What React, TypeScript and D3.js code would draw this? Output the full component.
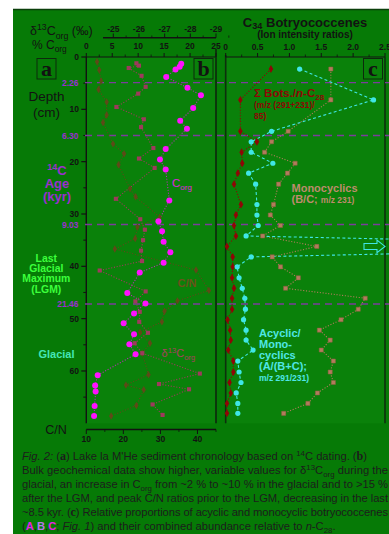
import * as d3 from "d3";

// ---- data ----
const depthTicks = [0, 10, 20, 30, 40, 50, 60];
const depthMinor = [5, 15, 25, 35, 45, 55, 65];
const ageDepths = [4.9, 15.0, 32.0, 47.2];
const ageLabels = ["2.26", "6.30", "9.03", "21.46"];

const corgTicks = [0, 5, 10, 15, 20, 25];
const d13cTicks = [-25, -26, -27, -28, -29];
const cnTicks = [10, 20, 30, 40];
const ratioTicks = [0, 0.5, 1.0, 1.5, 2.0, 2.5];
const ratioLabels = ["0", "0.5", "1.0", "1.5", "2.0", "2.5"];

const corgDepth = [1.3, 1.85, 2.4, 3.8, 5.9, 7.3, 9.75, 12.2, 13.7, 17.6, 19.6, 21.5, 27.4, 31.4, 33.3, 35.3, 37.3, 39.3, 41.2, 45.1, 47.1, 49.0, 50.9, 53.0, 54.9, 56.8, 60.8, 62.8, 63.9, 66.7, 68.6];
const corgValue = [18.3, 18.0, 17.2, 15.4, 19.5, 22.1, 20.6, 18.1, 19.4, 15.3, 14.2, 15.3, 16.0, 13.9, 14.6, 14.9, 16.2, 14.9, 10.3, 7.9, 11.4, 9.2, 7.2, 9.2, 8.3, 9.5, 2.2, 1.7, 1.8, 1.6, 1.5];

const d13cDepth = [1.2, 1.65, 2.1, 3.6, 5.7, 7.0, 9.55, 11.9, 13.4, 17.4, 19.4, 21.2, 27.1, 31.0, 33.0, 35.0, 37.0, 39.0, 40.8, 44.8, 46.7, 48.7, 50.6, 52.7, 54.7, 56.6, 60.5, 62.5, 63.5, 66.4, 68.4];
const d13cValue = [-25.9, -26.0, -25.6, -26.1, -26.26, -25.97, -25.12, -26.19, -26.08, -26.56, -26.0, -26.61, -25.1, -26.05, -26.23, -26.16, -26.08, -26.12, -24.47, -26.26, -25.86, -26.03, -26.01, -26.35, -25.83, -26.13, -28.37, -26.78, -27.95, -26.53, -26.92];

const cnDepth = [0.9, 2.5, 4.6, 6.2, 8.6, 11.1, 12.5, 16.6, 18.5, 20.6, 25.2, 26.7, 30.6, 32.5, 34.7, 36.7, 40.7, 44.6, 46.6, 48.6, 50.6, 52.6, 54.7, 56.6, 60.7, 62.7, 63.6, 66.6, 68.6];
const cnValue = [12.9, 13.5, 14.0, 13.3, 15.5, 15.5, 14.5, 17.2, 20.2, 18.7, 21.8, 23.3, 29.8, 23.8, 23.2, 17.7, 39.6, 43.1, 34.6, 31.1, 30.4, 24.5, 27.2, 25.1, 26.8, 20.7, 25.5, 23.5, 16.7];

const botDepth = [2.3, 8.2, 14.2, 16.2, 18.2, 20.3, 22.2, 24.3, 28.2, 30.2, 32.2, 34.2, 36.2, 38.2, 40.1, 42.2, 44.2, 46.1, 48.2, 50.2, 52.2, 54.1, 56.0, 58.1, 60.2, 62.2, 64.2, 66.2, 68.1];
const sumBots = [0.71, 0.23, 0.23, 0.49, 0.25, 0.26, 0.19, 0.13, 0.24, 0.16, 0.13, 0.16, 0.02, 0.11, 0.11, 0.10, 0.13, 0.10, 0.10, 0.03, 0.07, 0.08, 0.04, 0.12, 0.12, 0.06, 0.08, 0.02, 0.02];
const monocyclics = [1.65, 1.65, 0.98, 0.72, 0.61, 1.09, 0.97, 0.83, 0.75, 0.70, 0.86, 0.58, 1.43, 0.73, 0.86, 1.14, 0.94, 2.19, 2.08, 1.81, 1.47, 1.64, 1.50, 1.69, 1.64, 1.69, 1.44, 1.29, 0.91];
const acyclicMono = [1.16, 2.32, 0.72, 0.40, 0.40, 0.74, 0.36, 0.47, 0.49, 0.49, 0.51, 0.32, 8.0, 0.40, 0.18, 0.21, 0.26, 0.30, 0.31, 0.28, 0.32, 0.32, 0.43, 0.19, 0.21, 0.24, 0.165, 0.19, 0.19];

type Seg = { t: string; k?: string };

const captionLines: Seg[][] = [
  [{ t: "Fig. 2:", k: "i" }, { t: " (" }, { t: "a", k: "bs" }, { t: ") Lake la M'He sediment chronology based on " }, { t: "14", k: "sup" }, { t: "C dating. (" }, { t: "b", k: "bs" }, { t: ")" }],
  [{ t: "Bulk geochemical data show higher, variable values for δ" }, { t: "13", k: "sup" }, { t: "C" }, { t: "org", k: "sub" }, { t: " during the" }],
  [{ t: "glacial, an increase in C" }, { t: "org", k: "sub" }, { t: " from ~2 % to ~10 % in the glacial and to >15 %" }],
  [{ t: "after the LGM, and peak C/N ratios prior to the LGM, decreasing in the last" }],
  [{ t: "~8.5 kyr. (" }, { t: "c", k: "bs" }, { t: ") Relative proportions of acyclic and monocyclic botryococcenes" }],
  [{ t: "(" }, { t: "A", k: "A" }, { t: "," }, { t: "B", k: "B" }, { t: "," }, { t: "C", k: "A" }, { t: "; " }, { t: "Fig. 1", k: "i" }, { t: ") and their combined abundance relative to " }, { t: "n", k: "i" }, { t: "-C" }, { t: "28", k: "sub" }, { t: "." }],
];
const captionWidths = [345, 366, 366, 366, 366, 0];

const SANS = "'Liberation Sans', Arial, sans-serif";
const SERIF = "'Liberation Serif', 'DejaVu Serif', serif";

function Segs({ segs, size, sub = 0.3 }: { segs: Seg[]; size: number; sub?: number }) {
  let shift = 0;
  return (
    <>
      {segs.map((s, i) => {
        const want = s.k === "sup" ? -0.38 * size : s.k === "sub" ? sub * size : 0;
        const dy = want - shift;
        shift = want;
        const p: any = {};
        if (dy !== 0) p.dy = dy;
        if (s.k === "sup" || s.k === "sub") p.fontSize = size * 0.7;
        if (s.k === "i") p.fontStyle = "italic";
        if (s.k === "bs") {
          p.fontFamily = SERIF;
          p.fontWeight = "bold";
          p.fontSize = size * 1.08;
        }
        if (s.k === "A") {
          p.fill = "#e81ee8";
          p.fontWeight = "bold";
        }
        if (s.k === "B") {
          p.fill = "#b777e8";
          p.fontWeight = "bold";
        }
        return (
          <tspan key={i} {...p}>
            {s.t}
          </tspan>
        );
      })}
    </>
  );
}

export default function App() {
  const W = 389;
  const H = 534;
  const top = 57;
  const bottom = 423.3;

  const y = d3.scaleLinear().domain([0, 70]).range([top, bottom]);
  const xCorg = d3.scaleLinear().domain([0, 25]).range([86.3, 216]);
  const xD13 = d3.scaleLinear().domain([-25, -29]).range([113.3, 216]);
  const xCN = d3.scaleLinear().domain([10, 45]).range([86.3, 216]);
  const xR = d3.scaleLinear().domain([0, 2.5]).range([225.7, 385]);

  const mkLine = (xs: (v: number) => number, depth: number[]) =>
    d3
      .line<number>()
      .x((v) => xs(v))
      .y((_, i) => y(depth[i]));

  const sq = d3.symbol().type(d3.symbolSquare).size(17)()!;
  const sqTan = d3.symbol().type(d3.symbolSquare).size(17)()!;
  const dia = d3.symbol().type(d3.symbolDiamond).size(16)()!;
  const diaRed = d3.symbol().type(d3.symbolDiamond).size(18)()!;

  const cCorg = "#ff10ff";
  const cD13 = "#9e3a5c";
  const cCN = "#5e4a18";
  const cRed = "#8e0606";
  const cTan = "#b27c5c";
  const cCyan = "#3fe6e6";
  const cPurple = "#9a2fd0";
  const dark = "#121212";

  const dot = "1.1,1.7";

  return (
    <svg
      width={W}
      height={H}
      style={{ position: "absolute", left: 0, top: 0, background: "#fff" }}
      fontFamily={SANS}
    >
      <defs>
        <clipPath id="clipC">
          <rect x={224} y={top - 2} width={W - 224} height={bottom - top + 4} />
        </clipPath>
      </defs>
      {/* background */}
      <rect x={13} y={9} width={W - 13} height={H - 9} fill="#067a06" />
      <line x1={13} x2={W} y1={9.5} y2={9.5} stroke="#0a3f0a" strokeWidth={1.5} />
      {/* panels */}
      <rect x={xCorg(0)} y={top} width={xCorg(25) - xCorg(0)} height={bottom - top} fill="#0a810a" />
      <rect x={xR(0)} y={top} width={xR(2.5) - xR(0)} height={bottom - top} fill="#0a810a" />

      {/* panel b frame */}
      <line x1={xCorg(0)} x2={xCorg(0)} y1={top} y2={bottom} stroke={dark} strokeWidth={1.4} />
      <line x1={xCorg(0)} x2={xCorg(25)} y1={top} y2={top} stroke={dark} strokeWidth={1.2} />
      <line x1={xCorg(25)} x2={xCorg(25)} y1={49} y2={bottom} stroke="#0d2f0d" strokeWidth={1.8} />
      {/* panel c frame */}
      <line x1={xR(0)} x2={xR(0)} y1={top - 2} y2={bottom} stroke="#0d2f0d" strokeWidth={1.6} />
      <line x1={xR(0)} x2={xR(2.5)} y1={top} y2={top} stroke={dark} strokeWidth={1.2} />
      <line x1={xR(2.5)} x2={xR(2.5)} y1={top} y2={bottom} stroke="#0d2f0d" strokeWidth={1.6} />

      {/* depth axis */}
      {depthTicks.map((d) => (
        <g key={"dt" + d}>
          <line x1={xCorg(0) - 5} x2={xCorg(0)} y1={y(d)} y2={y(d)} stroke={dark} strokeWidth={1.2} />
          <text x={79} y={y(d)} dy="0.36em" textAnchor="end" fontSize={8.5} fontWeight="bold" fill={dark}>
            {d}
          </text>
        </g>
      ))}
      {depthMinor.map((d) => (
        <line key={"dm" + d} x1={xCorg(0) - 3} x2={xCorg(0)} y1={y(d)} y2={y(d)} stroke={dark} strokeWidth={1} />
      ))}

      {/* age lines */}
      {ageDepths.map((d, i) => (
        <g key={"age" + i}>
          <line x1={81} x2={W} y1={y(d)} y2={y(d)} stroke="#7b3c9c" strokeWidth={1.4} strokeDasharray="7,5" strokeDashoffset={-4} />
          <text x={78.5} y={y(d)} dy="0.36em" textAnchor="end" fontSize={8.5} fontWeight="bold" fill={cPurple}>
            {ageLabels[i]}
          </text>
        </g>
      ))}

      {/* top axes of panel b */}
      <text x={30} y={35} fontSize={12.5} fill={dark}>
        <Segs segs={[{ t: "δ" }, { t: "13", k: "sup" }, { t: "C" }, { t: "org", k: "sub" }, { t: " (‰)" }]} size={12.5} />
      </text>
      <text x={32} y={48.5} fontSize={12} fill={dark}>
        <Segs segs={[{ t: "% C" }, { t: "org", k: "sub" }]} size={12} />
      </text>
      <line x1={103} x2={xD13(-29)} y1={37.7} y2={37.7} stroke={dark} strokeWidth={1.5} />
      {d13cTicks.map((v) => (
        <g key={"d13" + v}>
          <line x1={xD13(v)} x2={xD13(v)} y1={33.5} y2={37.7} stroke={dark} strokeWidth={1} />
          <line x1={xD13(v - 0.5)} x2={xD13(v - 0.5)} y1={35.5} y2={37.7} stroke={dark} strokeWidth={0.8} />
          <text x={xD13(v)} y={31.5} textAnchor="middle" fontSize={8.5} fontWeight="bold" fill={dark}>
            {v}
          </text>
        </g>
      ))}
      {corgTicks.map((v) => (
        <g key={"co" + v}>
          <line x1={xCorg(v)} x2={xCorg(v)} y1={top - 4} y2={top} stroke={dark} strokeWidth={1} />
          {v < 25 && <line x1={xCorg(v + 2.5)} x2={xCorg(v + 2.5)} y1={top - 2.5} y2={top} stroke={dark} strokeWidth={0.8} />}
          <text x={xCorg(v)} y={48.5} textAnchor="middle" fontSize={8.5} fontWeight="bold" fill={dark}>
            {v}
          </text>
        </g>
      ))}

      {/* bottom C/N axis */}
      <line x1={xCN(10)} x2={xCN(45)} y1={429.5} y2={429.5} stroke={dark} strokeWidth={1.4} />
      {cnTicks.map((v) => (
        <g key={"cn" + v}>
          <line x1={xCN(v)} x2={xCN(v)} y1={429.5} y2={434} stroke={dark} strokeWidth={1} />
          <line x1={xCN(v + 5)} x2={xCN(v + 5)} y1={429.5} y2={432} stroke={dark} strokeWidth={0.8} />
          <text x={xCN(v)} y={441.5} textAnchor="middle" fontSize={8.5} fontWeight="bold" fill={dark}>
            {v}
          </text>
        </g>
      ))}
      <text x={56} y={434} textAnchor="middle" fontSize={12.5} fill={dark}>
        C/N
      </text>

      {/* panel c top axis */}
      {ratioTicks.map((v, i) => (
        <g key={"r" + v}>
          <line x1={xR(v)} x2={xR(v)} y1={top - 4} y2={top} stroke={dark} strokeWidth={1} />
          {v < 2.5 && <line x1={xR(v + 0.25)} x2={xR(v + 0.25)} y1={top - 2.5} y2={top} stroke={dark} strokeWidth={0.8} />}
          <text x={xR(v)} y={50} textAnchor="middle" fontSize={8.5} fontWeight="bold" fill={dark}>
            {ratioLabels[i]}
          </text>
        </g>
      ))}
      <text x={305} y={26.5} textAnchor="middle" fontSize={13} fontWeight="bold" fill={dark}>
        <Segs segs={[{ t: "C" }, { t: "34", k: "sub" }, { t: " Botryococcenes" }]} size={13} sub={0.16} />
      </text>
      <text x={305} y={37.5} textAnchor="middle" fontSize={10} fontWeight="bold" fill={dark}>
        (Ion intensity ratios)
      </text>

      {/* left labels */}
      <text x={46.5} y={101} textAnchor="middle" fontSize={13.5} fill={dark}>
        Depth
      </text>
      <text x={46.5} y={117} textAnchor="middle" fontSize={13.5} fill={dark}>
        (cm)
      </text>
      <g fill={cPurple} fontWeight="bold" fontSize={13} textAnchor="middle">
        <text x={57} y={175}>
          <Segs segs={[{ t: "14", k: "sup" }, { t: "C" }]} size={13} />
        </text>
        <text x={57} y={188}>Age</text>
        <text x={57} y={201}>(kyr)</text>
      </g>
      <g fill="#3cff3c" fontWeight="bold" fontSize={10.4} textAnchor="middle">
        <text x={46.3} y={262}>Last</text>
        <text x={46.3} y={272.3}>Glacial</text>
        <text x={46.3} y={282.4}>Maximum</text>
        <text x={46.3} y={292.5}>(LGM)</text>
      </g>
      <text x={56.5} y={357.5} textAnchor="middle" fontSize={11} fontWeight="bold" fill="#44e6b4">
        Glacial
      </text>

      {/* panel letters */}
      {[
        ["a", 37],
        ["b", 194],
        ["c", 363.5],
      ].map(([l, x]) => (
        <g key={l as string}>
          <rect x={x as number} y={58.5} width={19} height={20.5} fill="none" stroke="#0d2a0d" strokeWidth={1} />
          <text x={(x as number) + 9.5} y={75.5} textAnchor="middle" fontFamily={SERIF} fontWeight="bold" fontSize={22} fill={dark}>
            {l}
          </text>
        </g>
      ))}

      {/* panel b series */}
      <path d={mkLine(xCN, cnDepth)(cnValue)!} fill="none" stroke={cCN} strokeWidth={1.1} strokeDasharray={dot} />
      <path d={mkLine(xD13, d13cDepth)(d13cValue)!} fill="none" stroke={cD13} strokeWidth={1.1} strokeDasharray={dot} />
      <path d={mkLine(xCorg, corgDepth)(corgValue)!} fill="none" stroke="#b530b5" strokeWidth={1.1} strokeDasharray={dot} />
      {cnValue.map((v, i) => (
        <path key={"cnp" + i} d={dia} transform={`translate(${xCN(v)},${y(cnDepth[i])})`} fill={cCN} />
      ))}
      {d13cValue.map((v, i) => (
        <path key={"dp" + i} d={sq} transform={`translate(${xD13(v)},${y(d13cDepth[i])})`} fill={cD13} />
      ))}
      {corgValue.map((v, i) => (
        <circle key={"cp" + i} cx={xCorg(v)} cy={y(corgDepth[i])} r={3} fill={cCorg} />
      ))}
      <text x={172} y={187} fontSize={11.5} fill="#e020e0">
        <Segs segs={[{ t: "C" }, { t: "org", k: "sub" }]} size={11.5} />
      </text>
      <text x={177.5} y={287} fontSize={11} fontWeight="bold" fill="#6a521c">
        C/N
      </text>
      <text x={161.5} y={357} fontSize={11} fill="#a8405e">
        <Segs segs={[{ t: "δ" }, { t: "13", k: "sup" }, { t: "C" }, { t: "org", k: "sub" }]} size={11} />
      </text>

      {/* panel c series */}
      <g clipPath="url(#clipC)">
        <path d={mkLine(xR, botDepth)(monocyclics)!} fill="none" stroke={cTan} strokeWidth={1.1} strokeDasharray={dot} />
        <path d={mkLine(xR, botDepth)(sumBots)!} fill="none" stroke={cRed} strokeWidth={1.1} strokeDasharray={dot} />
        <path d={mkLine(xR, botDepth)(acyclicMono)!} fill="none" stroke={cCyan} strokeWidth={1.1} strokeDasharray="3,2.4" />
        {monocyclics.map((v, i) => (
          <path key={"mp" + i} d={sqTan} transform={`translate(${xR(v)},${y(botDepth[i])})`} fill={cTan} stroke="#8f5f42" strokeWidth={0.5} />
        ))}
        {sumBots.map((v, i) => (
          <path key={"bp" + i} d={diaRed} transform={`translate(${xR(v)},${y(botDepth[i])})`} fill={cRed} />
        ))}
        {acyclicMono.map((v, i) => (
          <circle key={"ap" + i} cx={xR(v)} cy={y(botDepth[i])} r={2.6} fill={cCyan} />
        ))}
      </g>
      {/* off-scale arrow */}
      {(() => {
        const yc = y(botDepth[acyclicMono.indexOf(d3.max(acyclicMono)!)]);
        const x0 = 364;
        const x1 = 377;
        const x2 = xR(2.5);
        const pts = [
          [x0, yc - 3],
          [x1, yc - 3],
          [x1, yc - 6.3],
          [x2, yc],
          [x1, yc + 6.3],
          [x1, yc + 3],
          [x0, yc + 3],
        ];
        return <polygon points={pts.map((p) => p.join(",")).join(" ")} fill="none" stroke={cCyan} strokeWidth={1.1} />;
      })()}

      {/* panel c labels */}
      <text x={254} y={97} fontSize={11.5} fontWeight="bold" fill={cRed}>
        <Segs segs={[{ t: "Σ Bots./" }, { t: "n", k: "i" }, { t: "-C" }, { t: "28", k: "sub" }]} size={11.5} />
      </text>
      <text x={254} y={108} fontSize={8.5} fontWeight="bold" fill={cRed}>
        (m/z (291+231)/
      </text>
      <text x={254} y={119.3} fontSize={8.5} fontWeight="bold" fill={cRed}>
        85)
      </text>
      <text x={291.5} y={192} fontSize={11} fontWeight="bold" fill="#bd8c6c">
        Monocyclics
      </text>
      <text x={291.5} y={203} fontSize={11} fontWeight="bold" fill="#bd8c6c">
        (B/C; <tspan fontSize={8.5}>m/z 231)</tspan>
      </text>
      <g fontSize={11} fontWeight="bold" fill="#4fe6e6">
        <text x={259} y={337.3}>Acyclic/</text>
        <text x={259} y={348.3}>Mono-</text>
        <text x={259} y={359}>cyclics</text>
        <text x={259} y={369.5}>(A/(B+C);</text>
        <text x={259} y={380.7} fontSize={8.5}>
          m/z 291/231)
        </text>
      </g>

      {/* caption */}
      {captionLines.map((segs, i) => (
        <text
          key={"cap" + i}
          x={22}
          y={460 + i * 14}
          fontSize={11.2}
          fill="#1c1c1c"
          {...(captionWidths[i] ? { textLength: captionWidths[i], lengthAdjust: "spacing" } : {})}
        >
          <Segs segs={segs} size={11.2} />
        </text>
      ))}
    </svg>
  );
}
